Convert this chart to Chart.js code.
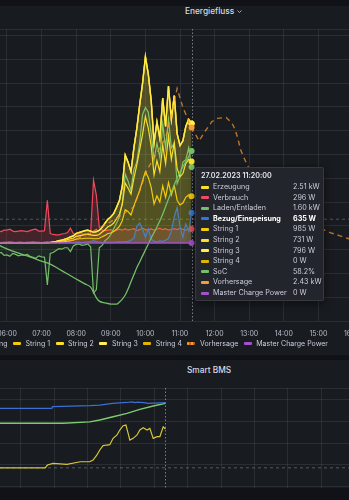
<!DOCTYPE html>
<html lang="de">
<head>
<meta charset="utf-8">
<title>Energiefluss</title>
<script src="https://cdn.jsdelivr.net/npm/chart.js@4.4.1/dist/chart.umd.min.js"></script>
<style>
  html, body { margin: 0; padding: 0; }
  body {
    width: 349px; height: 500px; overflow: hidden; position: relative;
    background: #111217; color: #ccccdc;
    font-family: Inter, "Noto Sans", sans-serif;
  }
  .panel { position: absolute; left: -20px; width: 400px; background: #181b1f; overflow: hidden; }
  #panel1 { top: 6px; height: 349px; }
  #panel2 { top: 360px; height: 128px; }
  .ptitle { position: absolute; font-size: 8.3px; font-weight: 500; color: #d8d9e0; white-space: nowrap; line-height: 10px; }
  #title1 { left: 205px; top: 0px; }
  #title2 { left: 207px; top: 4.5px; }
  .ptitle svg { margin-left: 3px; vertical-align: 1px; }
  #c1 { position: absolute; left: -40px; top: 25px; }
  #c2 { position: absolute; left: -20px; top: 24px; }
  #legend { position: absolute; right: 21px; top: 339px; display: flex; white-space: nowrap; font-size: 7px; line-height: 9px; }
  #legend span { display: flex; align-items: center; margin-left: 5.5px; }
  #legend i { display: inline-block; width: 8px; height: 3px; border-radius: 1px; margin-right: 4.5px; }
  #tip {
    position: absolute; left: 195px; top: 167px; width: 127px; height: 132px;
    background: #22252b; border: 1px solid rgba(204,204,220,0.12); border-radius: 2px;
    box-shadow: 0 2px 8px rgba(0,0,0,0.5); font-size: 7.2px;
  }
  #tip .tt { position: absolute; left: 5px; top: 3px; line-height: 10px; font-weight: 600; color: #e6e6ee; white-space: nowrap; }
  #tip .row { position: absolute; left: 5px; width: 120px; height: 10px; line-height: 10px; white-space: nowrap; }
  #tip .row i { position: absolute; left: 0; top: 3.5px; width: 8px; height: 3px; border-radius: 1px; }
  #tip .nm { position: absolute; left: 12px; }
  #tip .vl { position: absolute; left: 92px; }
  #tip .row.b { font-weight: 700; color: #ffffff; }
</style>
</head>
<body>
<div class="panel" id="panel1">
  <div class="ptitle" id="title1">Energiefluss<svg width="5" height="3" viewBox="0 0 5 3"><path d="M0.5 0.5 L2.5 2.5 L4.5 0.5" stroke="#ccccdc" fill="none" stroke-width="0.8"/></svg></div>
</div>
<div class="panel" id="panel2">
  <div class="ptitle" id="title2">Smart BMS</div>
  <canvas id="c2" width="430" height="124"></canvas>
</div>
<canvas id="c1" width="430" height="318"></canvas>
<div id="legend"></div>
<div id="tip"></div>

<script>
// ---- Daten Energiefluss (kW) ----
const hoverDate = '27.02.2023';
const hoverTime = '11:20';
const hourTicks = ['06:00', '07:00', '08:00', '09:00', '10:00', '11:00', '12:00', '13:00', '14:00', '15:00', '16:00', '17:00'];

const times = ['05:45', '05:50', '05:55', '06:00', '06:05', '06:10', '06:15', '06:20', '06:25', '06:30', '06:35', '06:40', '06:45', '06:50', '06:55',
  '07:00', '07:05', '07:10', '07:15', '07:20', '07:25', '07:30', '07:35', '07:40', '07:45', '07:50', '07:55',
  '08:00', '08:05', '08:10', '08:15', '08:20', '08:25', '08:30', '08:35', '08:40', '08:45', '08:50', '08:55',
  '09:00', '09:05', '09:10', '09:15', '09:20', '09:25', '09:30', '09:35', '09:40', '09:45', '09:50', '09:55',
  '10:00', '10:05', '10:10', '10:15', '10:20', '10:25', '10:30', '10:35', '10:40', '10:45', '10:50', '10:55',
  '11:00', '11:05', '11:10', '11:15', '11:20'];

const erzeugung = [0, 0, 0, 0, 0, 0, 0, 0, 0, 0, 0, 0, 0, 0, 0, 0, 0, 0,
  0.01, 0.02, 0.03, 0.05, 0.06, 0.08, 0.1, 0.13, 0.15, 0.2,
  0.22, 0.24, 0.26, 0.27, 0.25, 0.23, 0.24, 0.27, 0.33, 0.42,
  0.5, 0.55, 0.62, 0.75, 0.9, 1.2, 1.85, 1.7, 1.5, 2.0,
  2.4, 2.9, 3.35, 3.92, 3.55, 3.0, 2.1, 2.55, 2.2, 3.05,
  2.45, 3.3, 2.6, 3.1, 2.3, 2.05, 2.15, 2.45, 2.6, 2.51];

const verbrauch = [0.25, 0.24, 0.27, 0.27, 0.29, 0.25, 0.24, 0.25, 0.26, 0.25,
  0.24, 0.26, 0.28, 0.29, 0.25, 0.25, 0.26, 0.9, 0.2, 0.18,
  0.17, 0.17, 0.19, 0.2, 0.22, 0.31, 0.2, 0.19, 0.2, 0.19,
  0.18, 0.19, 0.2, 1.32, 1.0, 0.33, 0.27, 0.26, 0.27, 0.28,
  0.25, 0.27, 0.29, 0.27, 0.3, 0.27, 0.29, 0.3, 0.26, 0.28,
  0.31, 0.28, 0.27, 0.3, 0.27, 0.29, 0.31, 0.28, 0.3, 0.27,
  0.29, 0.3, 0.28, 0.31, 0.29, 0.27, 0.3, 0.296];

const laden = [-0.22, -0.2, -0.26, -0.25, -0.28, -0.22, -0.24, -0.27, -0.25, -0.26,
  -0.24, -0.28, -0.3, -0.32, -0.27, -0.29, -0.3, -0.88, -0.22, -0.2,
  -0.16, -0.12, -0.13, -0.1, -0.1, -0.18, -0.06, -0.03, -0.02, -0.05,
  -0.04, -0.02, -0.08, -1.05, -0.98, -0.1, -0.05, 0.05, 0.1, 0.18,
  0.3, 0.42, 0.55, 0.85, 1.45, 1.3, 1.1, 1.55, 1.7, 2.1,
  2.7, 2.85, 2.75, 2.3, 1.75, 2.1, 1.8, 2.5, 2.0, 2.6,
  2.0, 2.1, 1.25, 1.4, 1.7, 1.75, 2.0, 1.6];

const bezug = [0.02, 0.01, 0.02, 0.02, 0.03, 0.02, 0.01, 0.02, 0.02, 0.01,
  0.02, 0.02, 0.03, 0.02, 0.02, 0.01, 0.02, 0.03, 0.02, 0.02,
  0.01, 0.02, 0.02, 0.01, 0.02, 0.02, 0.01, 0.02, 0.02, 0.01,
  0.02, 0.02, 0.03, 0.05, 0.03, 0.02, 0.01, 0.02, 0.02, 0.01,
  0.02, 0.02, 0.03, 0.02, 0.03, 0.03, 0.06, 0.1, 0.35, 0.42,
  0.3, 0.12, 0.3, 0.08, 0.04, 0.02, 0.05, 0.03, 0.06, 0.1,
  0.25, 0.55, 0.75, 0.35, 0.12, 0.4, 0.25, 0.635];

const string1 = [0, 0, 0, 0, 0, 0, 0, 0, 0, 0, 0, 0, 0, 0, 0, 0, 0, 0,
  0.01, 0.01, 0.01, 0.02, 0.02, 0.03, 0.04, 0.05, 0.06, 0.08,
  0.09, 0.09, 0.1, 0.1, 0.1, 0.09, 0.09, 0.1, 0.13, 0.16,
  0.2, 0.21, 0.24, 0.29, 0.35, 0.47, 0.7, 0.66, 0.59, 0.78,
  0.94, 1.1, 1.31, 1.5, 1.38, 1.17, 0.82, 0.99, 0.86, 1.2,
  0.96, 1.27, 1.01, 1.21, 0.9, 0.8, 0.84, 0.96, 1.01, 0.985];

const string2 = [0, 0, 0, 0, 0, 0, 0, 0, 0, 0, 0, 0, 0, 0, 0, 0, 0, 0,
  0, 0.01, 0.01, 0.01, 0.02, 0.02, 0.03, 0.04, 0.04, 0.06,
  0.06, 0.07, 0.08, 0.08, 0.07, 0.07, 0.07, 0.08, 0.1, 0.12,
  0.14, 0.16, 0.18, 0.22, 0.26, 0.35, 0.56, 0.49, 0.44, 0.58,
  0.7, 0.86, 0.97, 1.16, 1.03, 0.87, 0.61, 0.74, 0.64, 0.86,
  0.71, 0.98, 0.75, 0.9, 0.67, 0.59, 0.62, 0.71, 0.75, 0.731];

const string3 = [0, 0, 0, 0, 0, 0, 0, 0, 0, 0, 0, 0, 0, 0, 0, 0, 0, 0,
  0, 0, 0.01, 0.02, 0.02, 0.03, 0.03, 0.04, 0.05, 0.06,
  0.07, 0.08, 0.08, 0.09, 0.08, 0.07, 0.08, 0.09, 0.1, 0.14,
  0.16, 0.18, 0.2, 0.24, 0.29, 0.38, 0.59, 0.55, 0.47, 0.64,
  0.76, 0.94, 1.07, 1.26, 1.14, 0.96, 0.67, 0.82, 0.7, 0.99,
  0.78, 1.05, 0.84, 0.99, 0.73, 0.66, 0.69, 0.78, 0.84, 0.796];

const string4 = [0, 0, 0, 0, 0, 0, 0, 0, 0, 0, 0, 0, 0, 0, 0, 0, 0, 0,
  0, 0, 0, 0, 0, 0, 0, 0, 0, 0,
  0, 0, 0, 0, 0, 0, 0, 0, 0, 0,
  0, 0, 0, 0, 0, 0, 0, 0, 0, 0,
  0, 0, 0, 0, 0, 0, 0, 0, 0, 0,
  0, 0, 0, 0, 0, 0, 0, 0, 0, 0];

// SoC in %
const socTimes = ['05:45', '06:00', '06:15', '06:30', '06:45', '07:00', '07:15', '07:30', '07:45', '08:00',
  '08:15', '08:25', '08:30', '08:35', '08:40', '08:50', '09:00', '09:10', '09:15', '09:20',
  '09:25', '09:30', '09:35', '09:40', '09:45', '09:50', '09:55', '10:00', '10:10', '10:20',
  '10:30', '10:40', '10:50', '11:00', '11:10', '11:20'];
const soc = [26.0, 24.7, 23.6, 22.6, 21.6, 20.5, 19.5, 17.8, 16.1, 14.4,
  12.7, 11.6, 9.9, 7.9, 6.8, 6.2, 5.8, 5.8, 6.5, 7.5,
  8.9, 11.0, 13.4, 15.8, 18.2, 20.2, 22.3, 24.3, 28.4, 32.2,
  36.6, 41.8, 46.6, 51.0, 54.5, 58.2];

const vorhersageTimes = ['07:30', '08:00', '08:30', '09:00', '09:20', '09:40', '10:03', '10:20', '10:35', '10:45',
  '10:55', '11:05', '11:20', '11:33', '11:43', '11:55', '12:05', '12:20', '12:30', '12:35',
  '12:40', '12:45', '12:55', '13:05', '13:20', '13:35', '13:50', '14:05', '14:20', '14:35',
  '14:50', '15:05', '15:20', '15:35', '15:50', '16:05', '16:20'];
const vorhersage = [0, 0.08, 0.25, 0.45, 0.6, 0.76, 1.54, 1.9, 2.2, 2.7,
  3.25, 2.85, 2.43, 2.15, 2.34, 2.55, 2.62, 2.64, 2.52, 2.4,
  2.21, 1.96, 1.68, 1.45, 1.2, 0.95, 0.8, 0.65, 0.55, 0.45,
  0.36, 0.3, 0.22, 0.16, 0.1, 0.05, 0.02];

const masterTimes = ['05:45', '11:20'];
const masterCharge = [0, 0];
const thresholdKw = 0.5;

// ---- Daten Smart BMS ----
const bmsBlueTimes = ['06:20', '07:56', '07:57', '09:04', '09:22', '09:45', '10:10', '10:20', '10:25', '10:30', '10:45', '10:47', '11:00', '11:20'];
const bmsBlue = [70, 70, 71.6, 72.5, 73.1, 74.7, 75.5, 76, 75.3, 75.8, 75.2, 74.7, 74.9, 75.4];
const bmsGreenTimes = ['06:20', '08:16', '09:04', '09:22', '09:46', '10:11', '10:34', '10:58', '11:20'];
const bmsGreen = [56.2, 56.2, 57.5, 59.3, 62.3, 65.4, 69.1, 72.2, 74.7];
const bmsYellowTimes = ['06:20', '07:44', '07:48', '07:58', '08:23', '08:47', '09:04', '09:10', '09:17', '09:22',
  '09:28', '09:35', '09:40', '09:46', '09:53', '09:58', '10:04', '10:09', '10:13', '10:16',
  '10:22', '10:29', '10:34', '10:40', '10:47', '10:52', '10:58', '11:05', '11:10', '11:16', '11:20'];
const bmsYellow = [15, 15, 17.6, 19.1, 18.2, 20.6, 20.6, 22.2, 26.9, 31.5,
  35.5, 36.1, 36.4, 42.3, 45.4, 50, 54, 54.6, 46.9, 40.7,
  42.3, 45.4, 50, 52.1, 50, 51.5, 42.3, 43.8, 43.8, 53, 50.9];
const bmsThreshold = 15;

// ---- Achsen / Stil ----
const view1 = [5.798, 16.49];
const view2 = [6.38, 17.458];
const kwRange = [-1.64, 4.5];
const bmsRange = [-22.2, 88.9];

const C = {
  erz: '#FADE2A', ver: '#F2495C', lad: '#73BF69', bez: '#3274D9',
  s1: '#F2CC0C', s2: '#FADE2A', s3: '#FFEE52', s4: '#E0B400',
  soc: '#73BF69', vor: '#FF9830', mcp: '#A352CC',
  bmsBlue: '#3B6FD4', bmsGreen: '#7DCB6F', bmsYellow: '#D6C63A'
};
const gridColor = 'rgba(204,204,220,0.1)';
const textColor = 'rgba(204,204,220,0.9)';

Chart.defaults.font.family = 'Inter, "Noto Sans", sans-serif';
Chart.defaults.color = textColor;

function rgba(hex, a) {
  const n = parseInt(hex.slice(1), 16);
  return `rgba(${n >> 16},${(n >> 8) & 255},${n & 255},${a})`;
}
const H = s => +s.slice(0, 2) + +s.slice(3) / 60;
const pts = (ts, vs) => ts.map((t, i) => ({ x: H(t), y: vs[i] }));
const hoverX = H(hoverTime);
const atHover = ctx => ctx.raw && Math.abs(ctx.raw.x - hoverX) < 1e-6;

function line(label, color, ts, vs, extra) {
  return Object.assign({
    label: label, data: pts(ts, vs),
    borderColor: color, backgroundColor: color,
    borderWidth: 1.2, tension: 0, fill: false, stack: label,
    pointRadius: ctx => atHover(ctx) ? 3 : 0,
    pointBorderWidth: 0, pointBackgroundColor: color
  }, extra || {});
}

function xAxis(view, showLabels) {
  return {
    type: 'linear', min: view[0], max: view[1], bounds: 'data',
    afterBuildTicks: s => {
      s.ticks = hourTicks.map(h => ({ value: H(h) })).filter(t => t.value >= view[0] && t.value <= view[1]);
    },
    afterFit: s => { s.height = showLabels ? 22 : 0; },
    ticks: {
      display: showLabels, autoSkip: false, maxRotation: 0, padding: 9,
      color: textColor, font: { size: 7 },
      callback: v => hourTicks.find(h => Math.abs(H(h) - v) < 1e-6)
    },
    grid: { color: gridColor, drawTicks: false },
    border: { display: false }
  };
}

function yAxis(range, step, stacked) {
  return {
    min: range[0], max: range[1], bounds: 'data', stacked: stacked,
    afterFit: s => { s.width = 40; },
    ticks: { display: false, stepSize: step, includeBounds: false },
    grid: { color: gridColor, drawTicks: false },
    border: { display: false }
  };
}

const crosshair = {
  id: 'crosshair',
  beforeDatasetsDraw(chart) {
    const { ctx, chartArea: a, scales: { x } } = chart;
    const px = Math.round(x.getPixelForValue(hoverX)) + 0.5;
    ctx.save();
    ctx.strokeStyle = 'rgba(204,204,220,0.55)';
    ctx.lineWidth = 1;
    ctx.setLineDash([1.5, 2]);
    ctx.beginPath();
    ctx.moveTo(px, a.top);
    ctx.lineTo(px, a.bottom);
    ctx.stroke();
    ctx.restore();
  }
};

// ---- Energiefluss ----
const datasets1 = [
  line('Master Charge Power', C.mcp, masterTimes, masterCharge, { borderWidth: 1.5 }),
  line('Vorhersage', rgba(C.vor, 0.72), vorhersageTimes, vorhersage, { borderDash: [5, 4], borderWidth: 1.4, pointBackgroundColor: C.vor }),
  line('SoC', C.soc, socTimes, soc, { yAxisID: 'soc', cubicInterpolationMode: 'monotone', borderWidth: 1.3 }),
  line('String 1', C.s1, times, string1, { stack: 'strings', fill: 'origin', backgroundColor: rgba(C.s1, 0.15) }),
  line('String 2', C.s2, times, string2, { stack: 'strings', fill: '-1', backgroundColor: rgba(C.s2, 0.15) }),
  line('String 3', C.s3, times, string3, { stack: 'strings', fill: '-1', backgroundColor: rgba(C.s3, 0.15) }),
  line('String 4', C.s4, times, string4, { stack: 'strings', fill: '-1', backgroundColor: rgba(C.s4, 0.15) }),
  line('Bezug/Einspeisung', C.bez, times, bezug, { fill: 'origin', backgroundColor: rgba(C.bez, 0.15) }),
  line('Laden/Entladen', C.lad, times, laden, { fill: 'origin', backgroundColor: rgba(C.lad, 0.08) }),
  line('Verbrauch', C.ver, times, verbrauch, { fill: 'origin', backgroundColor: rgba(C.ver, 0.2) }),
  line('Erzeugung', C.erz, times, erzeugung, { fill: 'origin', backgroundColor: rgba(C.erz, 0.12), borderWidth: 1.5 }),
  {
    label: 'threshold', stack: 'thr',
    data: [{ x: view1[0], y: thresholdKw }, { x: view1[1], y: thresholdKw }],
    borderColor: 'rgba(204,204,220,0.32)', borderDash: [3, 3], borderWidth: 1, pointRadius: 0
  }
];

const chart1 = new Chart(document.getElementById('c1'), {
  type: 'line',
  data: { datasets: datasets1 },
  options: {
    responsive: false, animation: false, events: [],
    layout: { padding: { top: 4, right: 20, left: 0, bottom: 0 } },
    plugins: { legend: { display: false }, tooltip: { enabled: false } },
    scales: {
      x: xAxis(view1, true),
      y: yAxis(kwRange, 0.5, true),
      soc: { display: false, min: 0, max: 100, bounds: 'data' }
    }
  },
  plugins: [crosshair]
});

// ---- Smart BMS ----
const chart2 = new Chart(document.getElementById('c2'), {
  type: 'line',
  data: {
    datasets: [
      line('Spannung', C.bmsBlue, bmsBlueTimes, bmsBlue, { pointRadius: 0 }),
      line('Ladezustand', C.bmsGreen, bmsGreenTimes, bmsGreen, { pointRadius: 0, borderWidth: 1.4 }),
      line('Strom', C.bmsYellow, bmsYellowTimes, bmsYellow, { pointRadius: 0 }),
      {
        label: 'threshold', stack: 'thr',
        data: [{ x: view2[0], y: bmsThreshold }, { x: view2[1], y: bmsThreshold }],
        borderColor: 'rgba(204,204,220,0.35)', borderDash: [3, 3], borderWidth: 1, pointRadius: 0
      }
    ]
  },
  options: {
    responsive: false, animation: false, events: [],
    layout: { padding: { top: 4, right: 20, left: 0, bottom: 0 } },
    plugins: { legend: { display: false }, tooltip: { enabled: false } },
    scales: {
      x: xAxis(view2, false),
      y: yAxis(bmsRange, 20, false)
    }
  },
  plugins: [crosshair]
});

// ---- Legende und Tooltip ----
const seriesNames = ['Erzeugung', 'Verbrauch', 'Laden/Entladen', 'Bezug/Einspeisung', 'String 1', 'String 2',
  'String 3', 'String 4', 'SoC', 'Vorhersage', 'Master Charge Power'];
const seriesColors = [C.erz, C.ver, C.lad, C.bez, C.s1, C.s2, C.s3, C.s4, C.soc, C.vor, C.mcp];
const dashedMarker = 'repeating-linear-gradient(90deg, #FF9830 0 2.5px, #b46a2a 2.5px 4px)';

const legendEl = document.getElementById('legend');
seriesNames.forEach((name, i) => {
  if (name === 'SoC') return;
  const item = document.createElement('span');
  const bg = name === 'Vorhersage' ? dashedMarker : seriesColors[i];
  item.innerHTML = `<i style="background:${bg}"></i>${name}`;
  legendEl.appendChild(item);
});

function fmt(name, v) {
  if (name === 'SoC') return v.toFixed(1) + '%';
  if (Math.abs(v) >= 1) return v.toFixed(2) + ' kW';
  return Math.round(v * 1000) + ' W';
}

let tipHtml = `<div class="tt">${hoverDate} ${hoverTime}:00</div>`;
seriesNames.forEach((name, n) => {
  const ds = chart1.data.datasets.find(d => d.label === name);
  const p = ds.data.find(q => Math.abs(q.x - hoverX) < 1e-6);
  const bold = name === 'Bezug/Einspeisung' ? ' b' : '';
  tipHtml += `<div class="row${bold}" style="top:${14 + n * 10.6}px"><i style="background:${seriesColors[n]}"></i>` +
    `<span class="nm">${name}</span><span class="vl">${fmt(name, p.y)}</span></div>`;
});
document.getElementById('tip').innerHTML = tipHtml;
</script>
</body>
</html>
